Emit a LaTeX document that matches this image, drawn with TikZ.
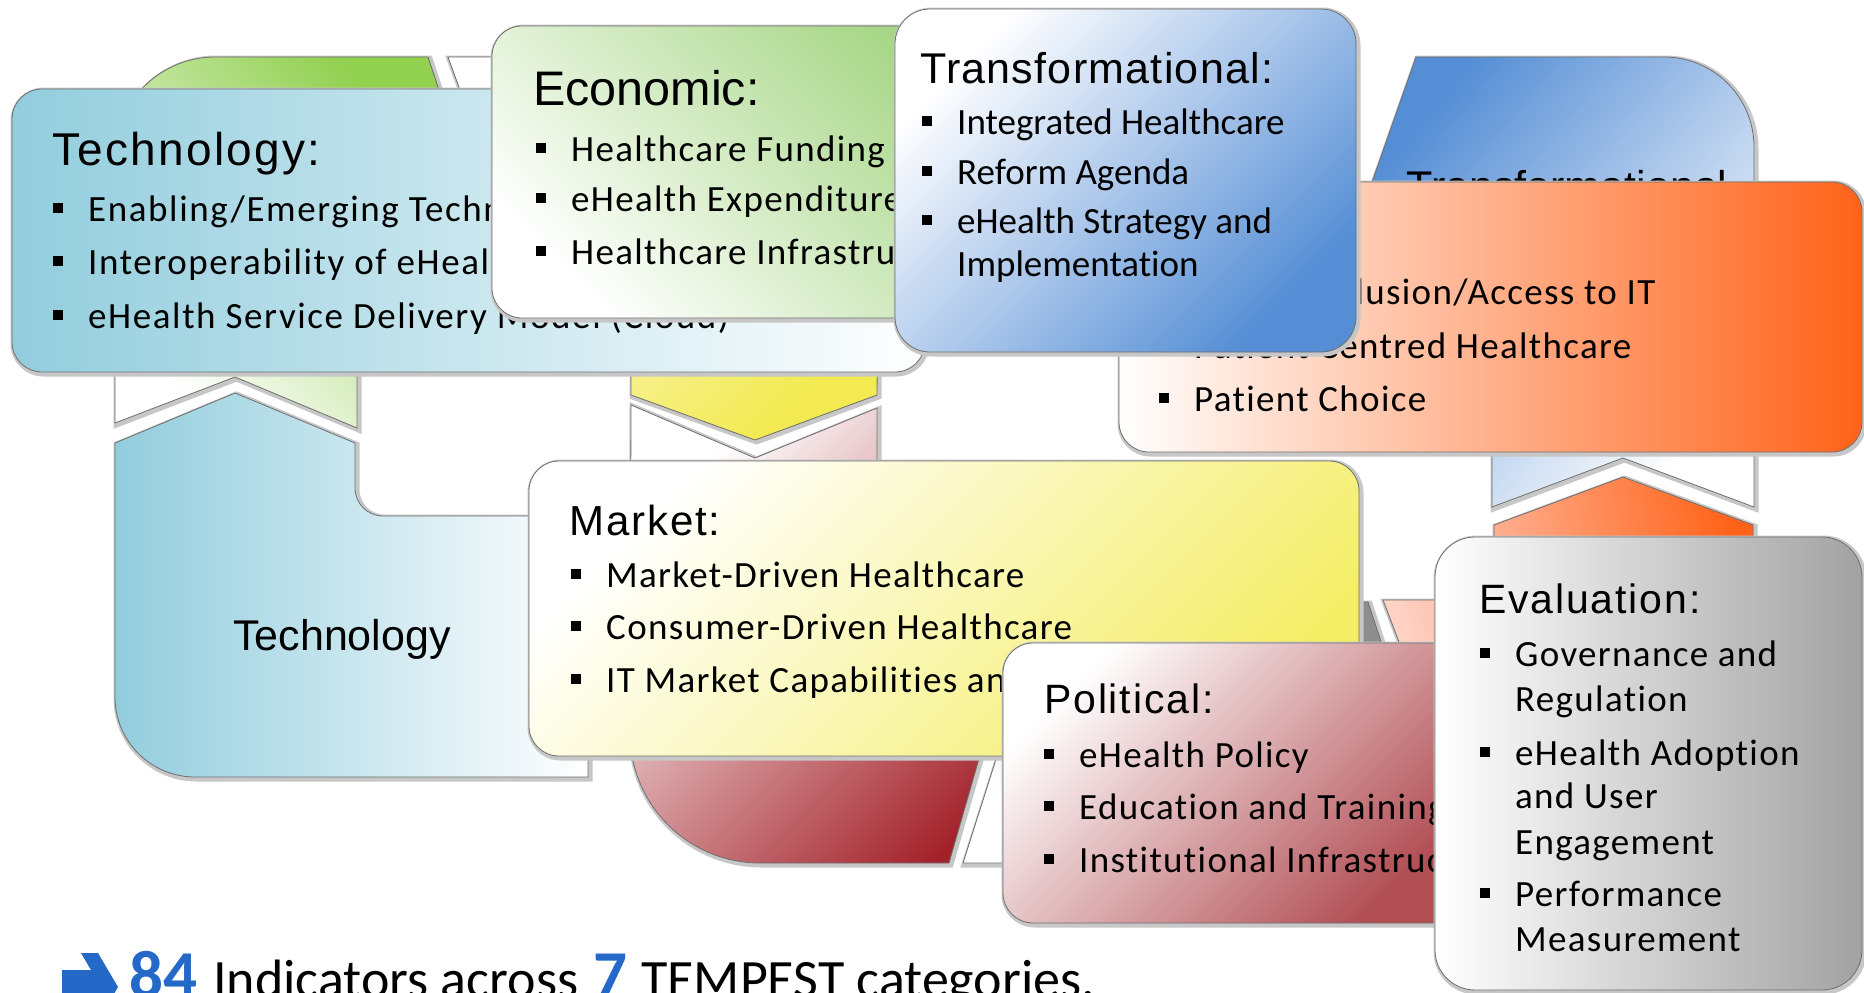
\documentclass[tikz,border=0pt]{standalone}
\usepackage{fontspec}
\setmainfont[Ligatures=NoCommon]{Carlito}
\newfontfamily\bodyLS[LetterSpace=3.6,Ligatures=NoCommon]{Carlito}
\newfontfamily\bodyT[LetterSpace=4.3,Ligatures=NoCommon]{Carlito}
\newfontfamily\bodyN[Ligatures=NoCommon]{Carlito}
\newfontfamily\titleF{Liberation Sans}
\newfontfamily\titleS[LetterSpace=4.5]{Liberation Sans}
\newfontfamily\titleT[LetterSpace=2.9]{Liberation Sans}
\newfontfamily\titleK[LetterSpace=5]{Liberation Sans}
\definecolor{tealC}{HTML}{92CDDD}
\definecolor{tealM}{HTML}{BEDFE9}
\definecolor{greenC}{HTML}{92D050}
\definecolor{econG}{HTML}{A6D685}
\definecolor{yellowC}{HTML}{F2EA50}
\definecolor{yellowB}{HTML}{F4EE66}
\definecolor{redD}{HTML}{A3222A}
\definecolor{redM}{HTML}{D5A9AC}
\definecolor{polC}{HTML}{B14F55}
\definecolor{transC}{HTML}{558ED5}
\definecolor{transM}{HTML}{C3D4EE}
\definecolor{orangeC}{HTML}{FF6218}
\definecolor{orangeM}{HTML}{FFAD95}
\definecolor{orangeL}{HTML}{FFD2C6}
\definecolor{grayC}{HTML}{A2A2A2}
\definecolor{grayD}{HTML}{8E8E8E}
\definecolor{grayM}{HTML}{D2D2D2}
\definecolor{blueT}{HTML}{2468C8}
\definecolor{lineC}{HTML}{6E6E6E}
\newcommand\bul{\makebox[35pt][l]{\rule[8pt]{10pt}{10pt}}}
\begin{document}
\begin{tikzpicture}[x=1pt,y=-1pt,
 outl/.style={draw=lineC, line width=0.8pt},
 halo/.style={preaction={draw=black!22, line width=6pt, transform canvas={shift={(1.5pt,-1.5pt)}}}},
 boxr/.style={outl, halo, rounded corners=30pt},
 txt/.style={anchor=base west, inner sep=0pt, font=\bodyLS\fontsize{37}{44}\selectfont},
 txtT/.style={anchor=base west, inner sep=0pt, font=\bodyT\fontsize{37}{44}\selectfont},
 txtN/.style={anchor=base west, inner sep=0pt, font=\bodyN\fontsize{37}{44}\selectfont},
 ttlS/.style={anchor=base west, inner sep=0pt, font=\titleS\fontsize{41}{48}\selectfont},
 lbl/.style={anchor=base, inner sep=0pt, font=\titleF\fontsize{43}{48}\selectfont},
 bot/.style={anchor=base west, inner sep=0pt, font=\bodyN\fontsize{54}{60}\selectfont},
 num/.style={anchor=base west, inner sep=0pt, text=blueT, font=\bodyN\bfseries\fontsize{67}{72}\selectfont},
]
\fill[white] (0,0) rectangle (1864,993);
\useasboundingbox (0,0) rectangle (1864,993);

% ---------- background cycle shapes ----------
% green (top left)
\path[outl, halo, left color=white, right color=greenC, shading angle=135]
  (115,423) -- (115,157) .. controls (115,101.8) and (159.8,57) .. (215,57)
  -- (428,57) -- (439,90) -- (439,360) -- (357,360) -- (357,428) -- (235,377) -- cycle;
% yellow (top middle)
\path[outl, halo, left color=white, right color=yellowC, shading angle=45]
  (448,57) -- (880,57) -- (877,395) -- (755,440) -- (631,395) -- (631,360) -- (460,90) -- cycle;
% red (bottom middle)
\path[outl, halo, left color=white, middle color=redM, right color=redD, shading angle=45]
  (631,405) -- (755,458) -- (877,408) -- (877,465) -- (1062,470) -- (949,863)
  -- (760,863) .. controls (688.2,863) and (630,804.8) .. (630,733) -- cycle;
% grey (bottom right)
\path[outl, halo, left color=white, right color=grayD, shading angle=135]
  (1046,602) -- (1368,602) -- (1420,760) -- (1420,863) -- (963,863) -- cycle;
% orange (right)
\path[outl, halo, left color=orangeL, right color=orangeC, shading angle=100]
  (1494,525) -- (1623,477) -- (1753,525) -- (1753,700) -- (1420,700) -- (1399,642)
  -- (1383,600) -- (1494,600) -- cycle;
% blue (top right)
\path[outl, halo, left color=transC, middle color=transM, right color=white, shading angle=50]
  (1416,57) -- (1664,57) .. controls (1713.7,57) and (1754,97.3) .. (1754,147)
  -- (1754,507) -- (1623,458) -- (1492,507) -- (1492,440) -- (1360,440) -- (1365.7,200) -- cycle;
\node[lbl] (lblTrans) at (1567,201) {Transformational};
% teal (bottom left)
\path[outl, halo, left color=tealC, middle color=tealM!70!white, right color=white]
  (115,443) -- (235,393) -- (355,443) -- (355,488) .. controls (355,503.5) and (367.5,516) .. (383,516)
  -- (588,516) -- (588,777) -- (195,777) .. controls (150.8,777) and (115,741.2) .. (115,697) -- cycle;
\node[lbl] (lblTech) at (342,650) {Technology};

% ---------- Technology box ----------
\path[boxr, left color=tealC, middle color=tealM, right color=white] (12,89) rectangle (925,372);
\node[anchor=base west, inner sep=0pt, font=\titleK\fontsize{46}{52}\selectfont] (tTech) at (52,165) {Technology:};
\node[txtT] (tech1) at (53,221) {\bul Enabling/Emerging Technologies};
\node[txtT] (tech2) at (53,274) {\bul Interoperability of eHealth Systems};
\node[txtT] (tech3) at (53,328) {\bul eHealth Service Delivery Model (Cloud)};

% ---------- Economic box ----------
\path[boxr, left color=white, right color=econG, shading angle=135] (492,26) rectangle (1000,318);
\node[anchor=base west, inner sep=0pt, font=\titleF\fontsize{48.5}{54}\selectfont] (tEcon) at (533,105) {Economic:};
\node[txt] (econ1) at (536,161) {\bul Healthcare Funding};
\node[txt] (econ2) at (536,211) {\bul eHealth Expenditure};
\node[txt] (econ3) at (536,264) {\bul Healthcare Infrastructure};

% ---------- Social (orange) box ----------
\path[boxr, left color=white, middle color=orangeM, right color=orangeC] (1119,182) rectangle (1862,452);
\node[txt] (soc1) at (1159,304) {\bul Digital Inclusion/Access to IT};
\node[txt] (soc2) at (1159,358) {\bul Patient Centred Healthcare};
\node[txt] (soc3) at (1159,411) {\bul Patient Choice};

% ---------- Transformational box ----------
\path[boxr, rounded corners=35pt, left color=white, right color=transC, shading angle=45] (895,9) rectangle (1356,352);
\node[anchor=base west, inner sep=0pt, font=\titleT\fontsize{43}{48}\selectfont] (tTrans) at (920,83) {Transformational:};
\node[txtN] (tr1) at (922,134) {\bul Integrated Healthcare};
\node[txtN] (tr2) at (922,184) {\bul Reform Agenda};
\node[txtN] (tr3) at (922,233) {\bul eHealth Strategy and};
\node[txtN] (tr4) at (957,276) {Implementation};

% ---------- Market box ----------
\path[boxr, left color=white, right color=yellowB, shading angle=45] (529,461) rectangle (1359,756);
\node[ttlS, font=\titleS\fontsize{42}{48}\selectfont] (tMarket) at (569,535) {Market:};
\node[txt] (mk1) at (571,587) {\bul Market-Driven Healthcare};
\node[txt] (mk2) at (571,639) {\bul Consumer-Driven Healthcare};
\node[txt] (mk3) at (571,692) {\bul IT Market Capabilities and Maturity};

% ---------- Political box ----------
\path[boxr, left color=white, right color=polC, shading angle=45] (1003,643) rectangle (1470,923);
\node[ttlS] (tPol) at (1044,713) {Political:};
\node[txt] (po1) at (1044,767) {\bul eHealth Policy};
\node[txt] (po2) at (1044,819) {\bul Education and Training};
\node[txt] (po3) at (1044,872) {\bul Institutional Infrastructure};

% ---------- Evaluation box ----------
\path[boxr, rounded corners=40pt, left color=white, middle color=grayM, right color=grayC] (1435,537) rectangle (1862,990);
\node[ttlS] (tEval) at (1479,613) {Evaluation:};
\node[txt] (ev1) at (1480,666) {\bul Governance and};
\node[txt] (ev2) at (1515,711) {Regulation};
\node[txt] (ev3) at (1480,765) {\bul eHealth Adoption};
\node[txt] (ev4) at (1515,808) {and User};
\node[txt] (ev5) at (1515,854) {Engagement};
\node[txt] (ev6) at (1480,906) {\bul Performance};
\node[txt] (ev7) at (1515,951) {Measurement};

% ---------- bottom line ----------
\path[fill=blueT] (62,970) -- (91,970) -- (81,953) -- (98,953) -- (118,987) -- (98,1021)
  -- (81,1021) -- (91,1004) -- (62,1004) -- cycle;
\node[num] (n84) at (129,997) {84};
\node[bot] (ind) at (213,997) {Indicators across};
\node[num] (n7) at (593,997) {7};
\node[bot] (cat) at (641,997) {TEMPEST categories.};
\end{tikzpicture}
\end{document}
